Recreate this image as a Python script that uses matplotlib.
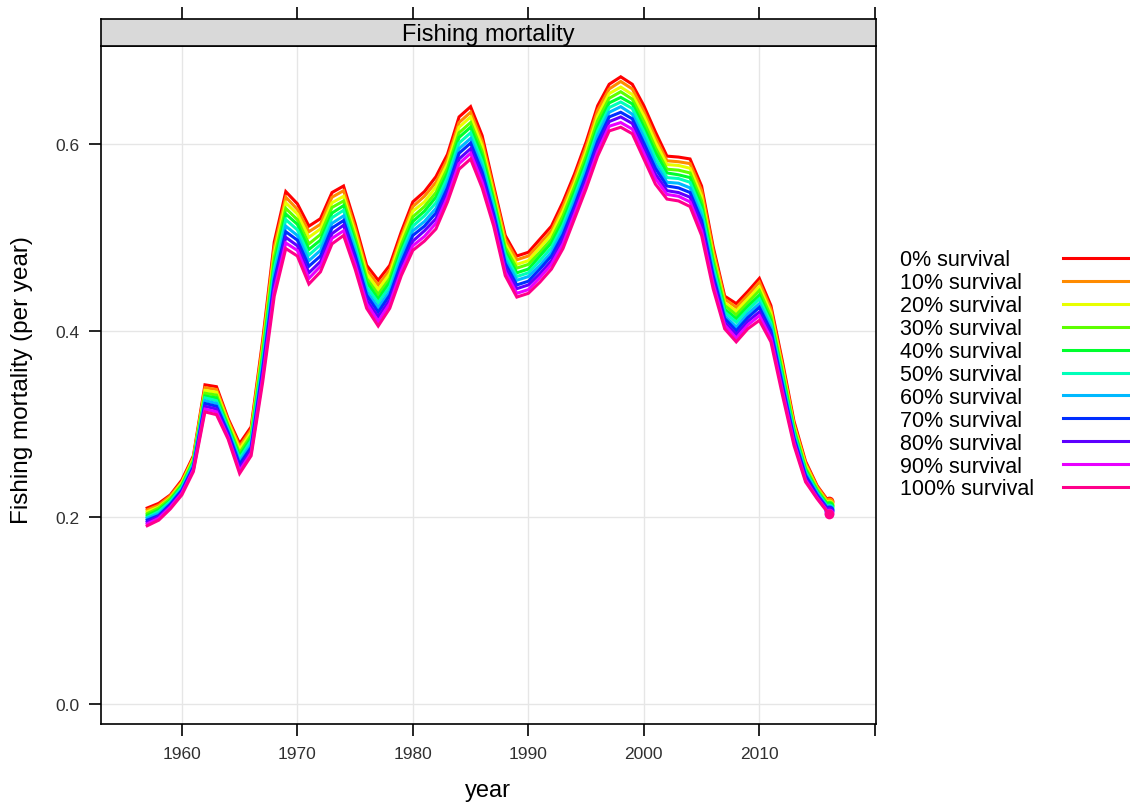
import numpy as np
import matplotlib
matplotlib.use("Agg")
from matplotlib import pyplot as plt
from matplotlib.lines import Line2D

plt.rcParams['font.family'] = ['Liberation Sans', 'DejaVu Sans']

# years 1957..2016
years = list(range(1957, 2017))

# fishing mortality per survival assumption
s0 = [.210, .215, .224, .240, .266, .342, .340, .306, .279, .297,
      .390, .495, .549, .536, .512, .520, .548, .555, .515, .470,
      .454, .470, .506, .538, .549, .565, .589, .629, .640, .609,
      .555, .502, .480, .484, .498, .512, .538, .568, .602, .641,
      .664, .672, .664, .641, .613, .587, .586, .584, .555, .490,
      .437, .429, .442, .456, .427, .367, .303, .260, .234, .217]
s10 = [.208, .213, .223, .238, .264, .339, .337, .304, .276, .294,
       .386, .489, .543, .530, .506, .514, .543, .550, .510, .465,
       .449, .465, .501, .533, .544, .559, .584, .623, .634, .603,
       .551, .498, .476, .480, .493, .507, .533, .563, .597, .636,
       .659, .667, .659, .635, .607, .582, .581, .579, .550, .486,
       .434, .425, .438, .452, .423, .363, .300, .258, .233, .216]
s20 = [.206, .211, .221, .237, .263, .336, .334, .302, .273, .291,
       .381, .483, .537, .525, .500, .509, .537, .544, .505, .461,
       .444, .461, .497, .528, .538, .554, .579, .618, .629, .598,
       .546, .493, .471, .475, .489, .503, .528, .558, .592, .630,
       .654, .661, .653, .630, .602, .578, .577, .574, .544, .481,
       .430, .421, .434, .447, .419, .360, .298, .256, .231, .214]
s30 = [.204, .210, .220, .235, .261, .333, .331, .299, .269, .288,
       .377, .478, .531, .519, .493, .503, .532, .539, .500, .456,
       .439, .456, .492, .522, .533, .548, .574, .612, .623, .592,
       .542, .489, .467, .471, .484, .498, .523, .554, .587, .625,
       .649, .656, .648, .624, .596, .573, .572, .569, .539, .477,
       .427, .417, .430, .443, .415, .356, .295, .253, .230, .213]
s40 = [.202, .208, .218, .234, .259, .330, .328, .297, .266, .285,
       .372, .472, .525, .514, .487, .497, .526, .534, .495, .452,
       .434, .452, .487, .517, .528, .543, .569, .607, .618, .587,
       .538, .485, .462, .466, .480, .494, .518, .549, .582, .619,
       .644, .650, .643, .618, .591, .569, .567, .564, .534, .472,
       .423, .413, .426, .438, .411, .353, .293, .251, .228, .212]
s50 = [.200, .206, .217, .232, .258, .328, .325, .295, .263, .282,
       .368, .466, .519, .508, .481, .492, .521, .529, .491, .447,
       .430, .447, .483, .512, .523, .537, .564, .601, .612, .581,
       .534, .481, .458, .462, .475, .489, .513, .544, .577, .614,
       .639, .645, .638, .613, .585, .564, .563, .559, .529, .468,
       .420, .409, .422, .434, .408, .349, .290, .249, .227, .210]
s60 = [.199, .204, .215, .230, .256, .325, .322, .293, .260, .278,
       .363, .460, .512, .502, .475, .486, .515, .523, .486, .442,
       .425, .442, .478, .507, .517, .531, .558, .595, .606, .575,
       .529, .476, .454, .458, .470, .484, .508, .539, .572, .609,
       .634, .640, .632, .607, .579, .559, .558, .553, .523, .463,
       .416, .404, .418, .429, .404, .345, .287, .247, .226, .209]
s70 = [.197, .202, .214, .229, .254, .322, .319, .291, .257, .275,
       .359, .454, .506, .497, .469, .480, .510, .518, .481, .438,
       .420, .438, .473, .502, .512, .526, .553, .590, .601, .570,
       .525, .472, .449, .453, .466, .480, .503, .534, .567, .603,
       .629, .634, .627, .601, .574, .555, .553, .548, .518, .459,
       .413, .400, .414, .425, .400, .342, .285, .245, .224, .208]
s80 = [.195, .201, .212, .227, .252, .319, .316, .288, .253, .272,
       .354, .449, .500, .491, .462, .474, .504, .513, .476, .433,
       .415, .433, .468, .496, .507, .520, .548, .584, .595, .564,
       .521, .468, .445, .449, .461, .475, .498, .530, .562, .598,
       .624, .629, .622, .595, .568, .550, .548, .543, .513, .454,
       .409, .396, .410, .420, .396, .338, .282, .242, .223, .207]
s90 = [.193, .199, .211, .226, .251, .316, .313, .286, .250, .269,
       .350, .443, .494, .486, .456, .469, .499, .507, .471, .429,
       .410, .429, .464, .491, .501, .515, .543, .579, .590, .559,
       .516, .463, .440, .444, .457, .471, .493, .525, .557, .592,
       .619, .623, .616, .590, .563, .546, .544, .538, .507, .450,
       .406, .392, .406, .416, .392, .335, .280, .240, .221, .205]
s100 = [.191, .197, .209, .224, .249, .313, .310, .284, .247, .266,
        .345, .437, .488, .480, .450, .463, .493, .502, .466, .424,
        .405, .424, .459, .486, .496, .509, .538, .573, .584, .553,
        .512, .459, .436, .440, .452, .466, .488, .520, .552, .587,
        .614, .618, .611, .584, .557, .541, .539, .533, .502, .445,
        .402, .388, .402, .411, .388, .331, .277, .238, .220, .204]

series = [s0, s10, s20, s30, s40, s50, s60, s70, s80, s90, s100]
labels = ["0% survival", "10% survival", "20% survival", "30% survival",
          "40% survival", "50% survival", "60% survival", "70% survival",
          "80% survival", "90% survival", "100% survival"]
# R rainbow(11)
colors = ["#FF0000", "#FF8B00", "#E8FF00", "#5DFF00", "#00FF2E", "#00FFB9",
          "#00B9FF", "#002EFF", "#5D00FF", "#E800FF", "#FF008B"]

xticks = [1960, 1970, 1980, 1990, 2000, 2010, 2020]
xticklabels = ["1960", "1970", "1980", "1990", "2000", "2010", ""]
yticks = [0.0, 0.2, 0.4, 0.6]
yticklabels = ["0.0", "0.2", "0.4", "0.6"]

W, H = 1130, 803
fig = plt.figure(figsize=(W / 100, H / 100), dpi=100)

# main panel
ax = fig.add_axes([101 / W, 1 - 725 / H, 775 / W, (725 - 47) / H])
ax.set_xlim(1953.0, 2020.1)
ax.set_ylim(-0.0214, 0.705)

for xv in xticks[:-1]:
    ax.axvline(xv, color="#e6e6e6", lw=1.0, zorder=0)
for yv in yticks:
    ax.axhline(yv, color="#e6e6e6", lw=1.0, zorder=0)

for s, c in zip(series, colors):
    ax.plot(years, s, color=c, lw=2.2, solid_joinstyle="miter")
    ax.plot(years[-1], s[-1], "o", color=c, ms=7, mew=0)

ax.set_xticks(xticks)
ax.set_xticklabels(xticklabels)
ax.set_yticks(yticks)
ax.set_yticklabels(yticklabels)
ax.tick_params(axis="both", direction="out", length=8.5, width=1.2,
               labelsize=12.5, labelcolor="#303030", pad=7)
for sp in ax.spines.values():
    sp.set_linewidth(1.2)

# strip on top
strip = fig.add_axes([101 / W, 1 - 47 / H, 775 / W, 27 / H])
strip.set_facecolor("#d9d9d9")
strip.set_xlim(1953.0, 2020.1)
strip.set_xticks(xticks)
strip.set_yticks([])
strip.tick_params(axis="x", top=True, bottom=False, labeltop=False,
                  labelbottom=False, direction="out", length=8.5, width=1.2)
for sp in strip.spines.values():
    sp.set_linewidth(1.2)
strip.text(0.5, 0.45, "Fishing mortality", transform=strip.transAxes,
           ha="center", va="center", fontsize=17)

# axis titles
fig.text(488 / W, 1 - 791 / H, "year", ha="center", va="center", fontsize=17)
fig.text(22 / W, 1 - 380 / H, "Fishing mortality (per year)", ha="center",
         va="center", rotation=90, fontsize=17.5)

# key on the right
for i, (lab, c) in enumerate(zip(labels, colors)):
    yc = 259 + 22.9 * i
    fig.text(900 / W, 1 - (yc + 7.5) / H, lab, ha="left", va="baseline",
             fontsize=15.5)
    fig.add_artist(Line2D([1063 / W, 1128 / W], [1 - yc / H, 1 - yc / H],
                          color=c, lw=2.2, transform=fig.transFigure))

fig.savefig("out.png", dpi=100)
